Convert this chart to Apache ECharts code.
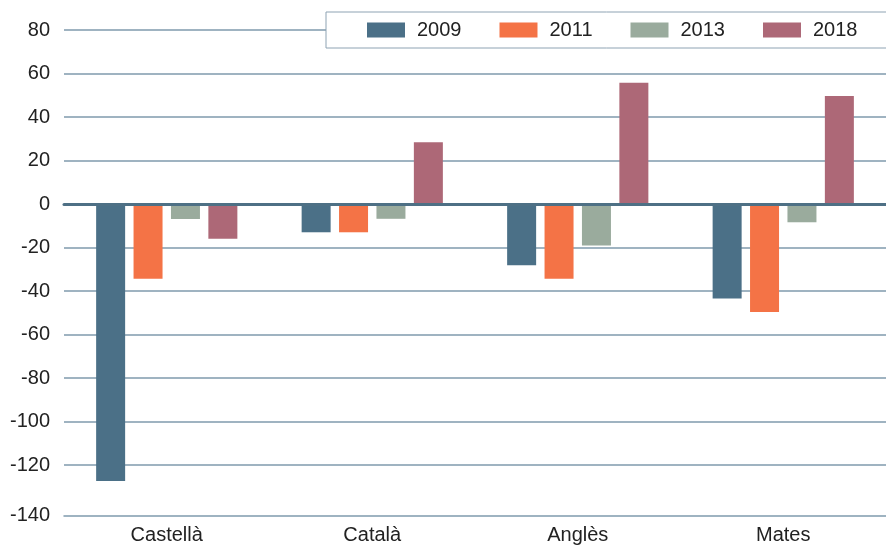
<!DOCTYPE html>
<html>
<head>
<meta charset="utf-8">
<title>Evolució per matèria</title>
<script src="https://cdn.jsdelivr.net/npm/echarts@6/dist/echarts.min.js"></script>
<style>
  html, body { margin: 0; padding: 0; background: #fff; }
  #chart { width: 886px; height: 549px; }
</style>
</head>
<body>
<div id="chart"></div>
<script>
const categories = ['Castellà', 'Català', 'Anglès', 'Mates']
const years = ['2009', '2011', '2013', '2018']
const values2009 = [-127.4, -13, -28.2, -43.5]
const values2011 = [-34.4, -13, -34.4, -49.6]
const values2013 = [-6.9, -6.8, -19.1, -8.4]
const values2018 = [-16, 28.4, 55.8, 49.7]
const yTicks = { min: -140, max: 80, step: 20 }

const Colors = ['#4b7087', '#f47346', '#9aab9d', '#ad6877']
const FONT = "'Liberation Sans', Arial, sans-serif"
const gridColor = '#7f9aad'

const seriesValues = [values2009, values2011, values2013, values2018]

const chart = echarts.init(document.getElementById('chart'))

chart.setOption({
  animation: false,
  grid: {
    top: 30,
    left: 64,
    right: -7,
    bottom: 40.5
  },
  legend: {
    data: years,
    orient: 'horizontal',
    left: 326,
    top: 12,
    width: 560,
    padding: [8, 40, 8, 41],
    backgroundColor: '#fff',
    borderColor: '#8ea3b3',
    borderWidth: 1,
    icon: 'rect',
    itemWidth: 38,
    itemHeight: 15,
    itemGap: 38,
    textStyle: {
      fontFamily: FONT,
      fontSize: 20,
      lineHeight: 20,
      color: '#222',
      padding: [0, 0, 0, 7]
    }
  },
  xAxis: [
    {
      // zero line
      type: 'category',
      data: categories,
      z: 5,
      axisLine: {
        onZero: true,
        lineStyle: { color: '#4e7085', width: 3 }
      },
      axisTick: { show: false },
      axisLabel: { show: false }
    },
    {
      // bottom line + labels
      type: 'category',
      data: categories,
      position: 'bottom',
      offset: 7,
      axisLine: {
        onZero: false,
        lineStyle: { color: gridColor, width: 1.5 }
      },
      axisTick: { show: false },
      axisLabel: {
        margin: 10,
        color: '#222',
        fontFamily: FONT,
        fontSize: 20
      }
    }
  ],
  yAxis: {
    type: 'value',
    min: yTicks.min,
    max: yTicks.max,
    interval: yTicks.step,
    axisLine: { show: false },
    axisTick: { show: false },
    splitLine: {
      showMinLine: false,
      lineStyle: { color: gridColor, width: 1.5 }
    },
    axisLabel: {
      margin: 14,
      color: '#222',
      fontFamily: FONT,
      fontSize: 20,
      formatter: function (v) {
        // lowest label sits on the bottom line, a little below the scale
        return v === yTicks.min ? '{low|' + v + '}' : String(v)
      },
      rich: {
        low: {
          padding: [14, 0, 0, 0],
          color: '#222',
          fontFamily: FONT,
          fontSize: 20
        }
      }
    }
  },
  series: years.map((year, i) => ({
    name: year,
    type: 'bar',
    xAxisIndex: 0,
    barWidth: 29,
    barGap: '29%',
    itemStyle: { color: Colors[i] },
    data: seriesValues[i]
  }))
})
</script>
</body>
</html>
